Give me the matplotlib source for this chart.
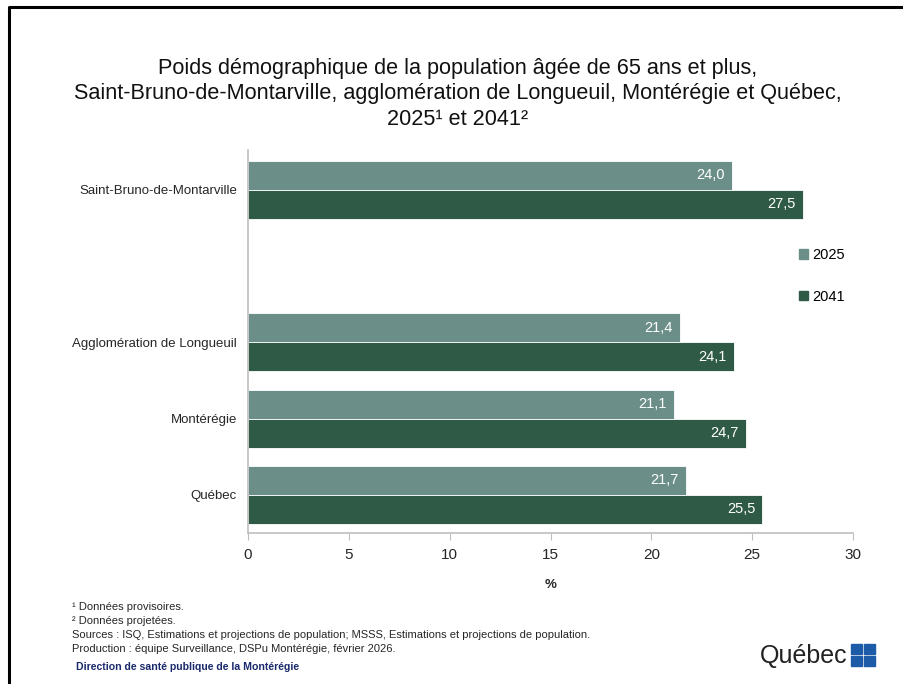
import matplotlib
matplotlib.use("Agg")
import matplotlib.pyplot as plt
from matplotlib.lines import Line2D
from matplotlib.patches import Rectangle

# data
categories = ["Québec", "Montérégie", "Agglomération de Longueuil", "", "Saint-Bruno-de-Montarville"]
vals_2025 = [21.7, 21.1, 21.4, None, 24.0]
vals_2041 = [25.5, 24.7, 24.1, None, 27.5]
series_names = ["2025", "2041"]
colors = ["#6b8f88", "#2f5a45"]
xticks = [0, 5, 10, 15, 20, 25, 30]

title = ("Poids démographique de la population âgée de 65 ans et plus,\n"
         "Saint-Bruno-de-Montarville, agglomération de Longueuil, Montérégie et Québec,\n"
         "2025¹ et 2041²")
notes = ["¹ Données provisoires.",
         "² Données projetées.",
         "Sources : ISQ, Estimations et projections de population; MSSS, Estimations et projections de population.",
         "Production : équipe Surveillance, DSPu Montérégie, février 2026."]

plain = ["Liberation Sans", "DejaVu Sans"]

fig = plt.figure(figsize=(9.04, 6.84), dpi=100)
ax = fig.add_axes([248/904, 1-533/684, (853-248)/904, (533-150)/684])

h = 0.38
ypos = list(range(len(categories)))
for i, (vals, col) in enumerate([(vals_2025, colors[0]), (vals_2041, colors[1])]):
    for y, v in zip(ypos, vals):
        if v is None:
            continue
        yy = y + h/2 if i == 0 else y - h/2
        ax.barh(yy, v, height=h, color=col, edgecolor="white", linewidth=0.6)
        ax.text(v - 0.35, yy, f"{v:.1f}".replace(".", ","), ha="right", va="center",
                color="white", fontsize=10.5, family=plain)

ax.set_xlim(0, 30)
ax.set_ylim(-0.5, 4.52)
ax.set_xticks(xticks)
ax.set_xticklabels([str(t) for t in xticks], fontsize=11, family=plain, color="#262626")
ax.set_yticks(ypos)
ax.set_yticklabels(categories, fontsize=9.5, family=plain, color="#262626")
ax.tick_params(axis="y", length=0, pad=8)
ax.tick_params(axis="x", length=5, color="#bfbfbf", pad=6)
for s in ["top", "right"]:
    ax.spines[s].set_visible(False)
for s in ["left", "bottom"]:
    ax.spines[s].set_color("#bfbfbf")
    ax.spines[s].set_linewidth(1.2)
ax.set_xlabel("%", fontsize=9.5, family=plain, fontweight="bold", labelpad=12, color="#262626")

handles = [Rectangle((0, 0), 1, 1, color=c) for c in colors]
fig.legend(handles, series_names, loc="center left", bbox_to_anchor=(786/904, 1-276/684),
           frameon=False, handlelength=0.6, handleheight=0.6,
           handletextpad=0.3, labelspacing=1.9, prop={"family": plain, "size": 10.5})

fig.text(458/904, 1-94/684, title, ha="center", va="center", fontsize=15.6,
         family=plain, linespacing=1.3, color="#111111")

note_y = [607, 621, 635, 649]
for y, t in zip(note_y, notes):
    fig.text(72/904, 1-y/684, t, ha="left", va="center", fontsize=8, family=plain, color="#262626")
fig.text(76/904, 1-667/684, "Direction de santé publique de la Montérégie", ha="left", va="center",
         fontsize=7.6, family=plain, fontweight="bold", color="#1a2a6c")

# Québec logo
fig.text(848/904, 1-656/684, "Québec", ha="right", va="center", fontsize=18, family=plain, color="#222222")
for dx in (0, 1):
    for dy in (0, 1):
        fig.add_artist(Rectangle(((851 + dx*13)/904, 1-(655 + dy*12 - 11)/684 - 10/684), 11/904, 10/684,
                                 transform=fig.transFigure, color="#1d5aa8"))

# slide frame
fig.add_artist(Line2D([9/904, 9/904, 1], [0, 1-7/684, 1-7/684], transform=fig.transFigure,
                      color="black", linewidth=2.2))

fig.savefig("out.png", dpi=100)
